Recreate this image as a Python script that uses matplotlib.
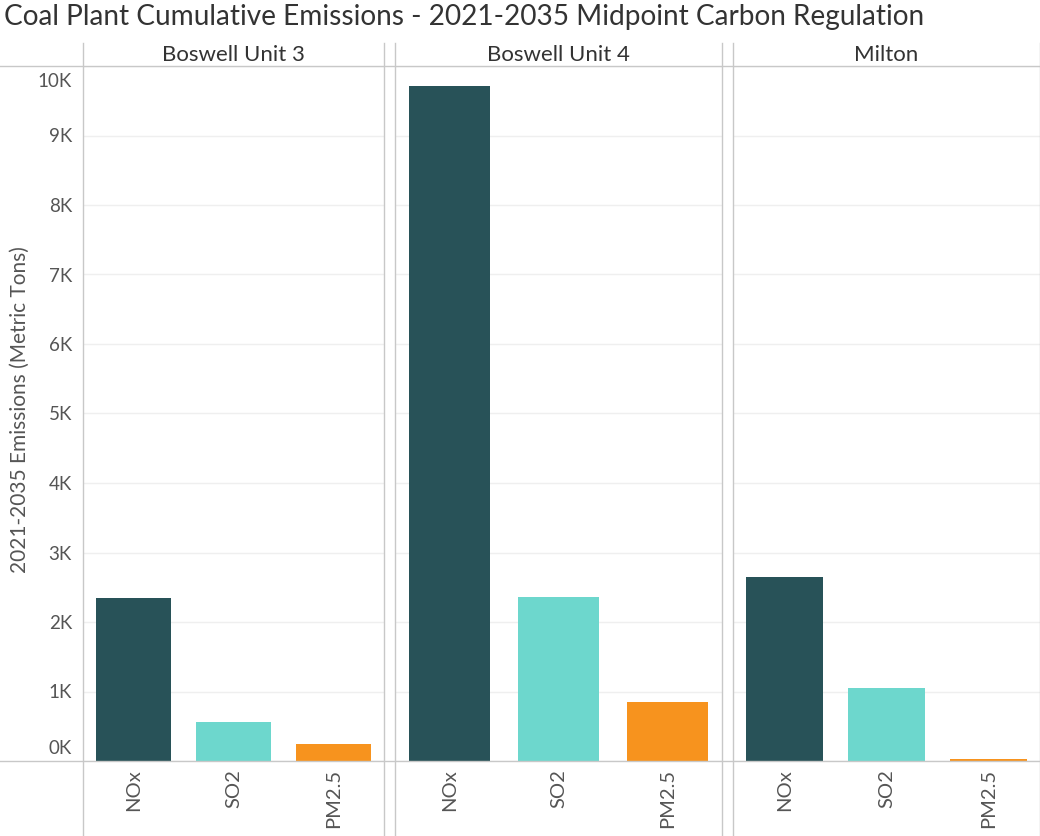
import numpy as np
import matplotlib.pyplot as plt
from matplotlib.lines import Line2D
import matplotlib.transforms as mtransforms

plants = ["Boswell Unit 3", "Boswell Unit 4", "Milton"]
pollutants = ["NOx", "SO2", "PM2.5"]
nox = [2345, 9710, 2650]
so2 = [560, 2360, 1050]
pm25 = [245, 850, 25]
yticks = [0, 1000, 2000, 3000, 4000, 5000, 6000, 7000, 8000, 9000, 10000]
ytick_labels = ["0K", "1K", "2K", "3K", "4K", "5K", "6K", "7K", "8K", "9K", "10K"]

colors = ["#285258", "#6dd7cd", "#f7931e"]
grid_c = "#efefef"
line_c = "#c8c8c8"
text_c = "#555555"

plt.rcParams['font.family'] = ['Lato', 'DejaVu Sans']

W, H = 1040, 836
fig = plt.figure(figsize=(W / 100, H / 100), dpi=100)

def fx(px):
    return px / W

def fy(py):
    return 1 - py / H

# panel pixel extents (left, right)
panels = [(83, 384), (395, 722), (733, 1040)]
top, bottom = 66, 761

values = np.array([nox, so2, pm25]).T  # plant x pollutant

axes = []
for i, (l, r) in enumerate(panels):
    ax = fig.add_axes([fx(l), fy(bottom), fx(r - l), (bottom - top) / H])
    x = np.arange(len(pollutants))
    ax.bar(x, values[i], width=0.75, color=colors, zorder=3)
    ax.set_xlim(-0.5, 2.5)
    ax.set_ylim(0, 10000)
    ax.set_yticks(yticks)
    ax.yaxis.grid(True, color=grid_c, lw=1, zorder=0)
    ax.set_xticks(x)
    ax.set_xticklabels(pollutants, rotation=90, fontsize=14.5, color=text_c, va="top")
    ax.tick_params(axis="x", length=0, pad=6)
    ax.tick_params(axis="y", length=0)
    for s in ax.spines.values():
        s.set_visible(False)
    if i == 0:
        ax.set_yticklabels(ytick_labels, fontsize=13.5, color=text_c)
        ax.tick_params(axis="y", pad=8)
        labs = ax.get_yticklabels()
        labs[0].set_transform(labs[0].get_transform() +
                              mtransforms.ScaledTranslation(0, 14 / 100, fig.dpi_scale_trans))
        labs[-1].set_transform(labs[-1].get_transform() +
                               mtransforms.ScaledTranslation(0, -14 / 100, fig.dpi_scale_trans))
    else:
        ax.set_yticklabels([])
    # header
    fig.text(fx((l + r) / 2), fy(55), plants[i], ha="center", va="center",
             fontsize=16, color="#333333")
    # panel border lines
    for xp in (l, r):
        fig.add_artist(Line2D([fx(xp), fx(xp)], [fy(43), 0], color=line_c, lw=1))
    axes.append(ax)

# horizontal lines across the figure
fig.add_artist(Line2D([0, 1], [fy(top), fy(top)], color=line_c, lw=1))
fig.add_artist(Line2D([0, 1], [fy(bottom), fy(bottom)], color=line_c, lw=1))

fig.text(fx(20), fy(410), "2021-2035 Emissions (Metric Tons)", rotation=90,
         ha="center", va="center", fontsize=15, color=text_c)

fig.text(fx(4), fy(17), "Coal Plant Cumulative Emissions - 2021-2035 Midpoint Carbon Regulation",
         ha="left", va="center", fontsize=20.2, color="#333333")

fig.savefig("out.png", dpi=100, facecolor="white")
